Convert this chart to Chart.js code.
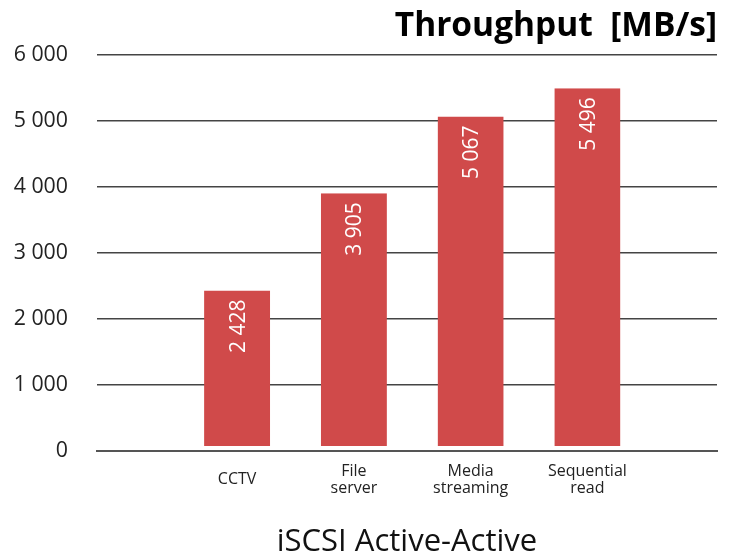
<!DOCTYPE html>
<html>
<head>
<meta charset="utf-8">
<script src="https://cdn.jsdelivr.net/npm/chart.js@4.4.1/dist/chart.umd.min.js"></script>
<style>
  html, body { margin: 0; padding: 0; background: #fff; }
  #wrap { width: 732px; height: 555px; }
</style>
</head>
<body>
<div id="wrap"><canvas id="c" width="732" height="555"></canvas></div>
<script>
const categories = [["CCTV"], ["File", "server"], ["Media", "streaming"], ["Sequential", "read"]];
const throughput = [2428, 3905, 5067, 5496];
const yTicks = [0, 1000, 2000, 3000, 4000, 5000, 6000];
const chartTitle = "Throughput  [MB/s]";
const axisTitle = "iSCSI Active-Active";

const FONT = "'Open Sans', 'Noto Sans', sans-serif";
const fmt = v => String(v).replace(/\B(?=(\d{3})+(?!\d))/g, " ");

const valueLabels = {
  id: "valueLabels",
  afterDatasetsDraw(chart) {
    const ctx = chart.ctx;
    const meta = chart.getDatasetMeta(0);
    ctx.save();
    ctx.fillStyle = "#ffffff";
    ctx.font = "21px " + FONT;
    meta.data.forEach((bar, i) => {
      ctx.save();
      ctx.translate(bar.x + 7.5, bar.y + 9);
      ctx.rotate(-Math.PI / 2);
      ctx.textAlign = "right";
      ctx.textBaseline = "alphabetic";
      ctx.fillText(fmt(throughput[i]), 0, 0);
      ctx.restore();
    });
    ctx.restore();
  }
};

new Chart(document.getElementById("c"), {
  type: "bar",
  data: {
    datasets: [{
      data: throughput.map((v, i) => ({ x: i + 1, y: v })),
      backgroundColor: "#d04a4a",
      borderColor: "#ffffff",
      borderWidth: { top: 0, left: 0, right: 0, bottom: 4 },
      borderSkipped: false,
      categoryPercentage: 1,
      barPercentage: 0.566
    }]
  },
  options: {
    responsive: false,
    animation: false,
    layout: { padding: { left: 0, right: 15, top: 0, bottom: 0 } },
    plugins: {
      legend: { display: false },
      tooltip: { enabled: false },
      title: {
        display: true,
        text: chartTitle,
        align: "end",
        color: "#000",
        font: { family: FONT, size: 33.5, weight: "bold", lineHeight: 1.2 },
        padding: { top: 6.8, bottom: 8 }
      }
    },
    scales: {
      x: {
        type: "linear",
        min: -0.2,
        max: 5.11,
        offset: false,
        z: 1,
        grid: { display: false },
        border: { display: true, color: "#555", width: 2 },
        afterBuildTicks: s => { s.ticks = categories.map((_, i) => ({ value: i + 1 })); },
        ticks: {
          autoSkip: false,
          maxRotation: 0,
          crossAlign: "center",
          padding: 12.5,
          color: "#222",
          font: { family: FONT, size: 16, lineHeight: 1.05 },
          callback: v => categories[v - 1] || ""
        },
        title: {
          display: true,
          text: axisTitle,
          color: "#111",
          font: { family: FONT, size: 31, lineHeight: 0.8 },
          padding: { top: 12.9, bottom: 0 }
        }
      },
      y: {
        min: 0,
        max: 6000,
        afterBuildTicks: s => { s.ticks = yTicks.map(v => ({ value: v })); },
        afterFit: s => { s.width = 97; },
        grid: { color: "#444", lineWidth: 1.5, drawTicks: false },
        border: { display: false },
        ticks: {
          padding: 29,
          color: "#222",
          font: { family: FONT, size: 21.33 },
          callback: v => fmt(v)
        }
      }
    }
  },
  plugins: [valueLabels]
});
</script>
</body>
</html>
